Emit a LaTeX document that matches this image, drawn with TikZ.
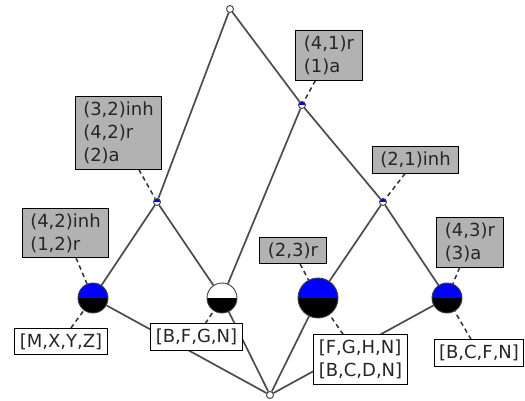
\documentclass[tikz,border=0pt]{standalone}
\usepackage{fontspec}
\setmainfont{DejaVu Sans}
\usetikzlibrary{backgrounds}

\tikzset{
  every node/.style={font=\fontsize{18}{23}\selectfont, text=black!85},
  edge/.style={draw=black!70, line width=1.7pt},
  link/.style={draw=black!80, line width=1.5pt, dash pattern=on 4.5pt off 3.5pt},
  attr/.style={draw=black, fill=black!30, line width=1pt, align=left, inner xsep=8pt, inner ysep=5pt},
  objs/.style={draw=black, fill=white, line width=1pt, align=left, inner xsep=5pt, inner ysep=5pt},
  concept/.style={circle, draw=black!75, line width=0.9pt, inner sep=0pt, minimum size=#1},
  half/.style 2 args={path picture={
    \fill[#1] (path picture bounding box.north west) rectangle (path picture bounding box.east);
    \fill[#2] (path picture bounding box.west) rectangle (path picture bounding box.south east);}},
}

\begin{document}
\begin{tikzpicture}[x=1pt, y=-1pt]
			%%%%% START %%%%%
			\useasboundingbox (0, 0) rectangle (525, 401);
			\clip (0, 0) rectangle (525, 401);
			
			% lattice points
			\node[concept=7pt, fill=white] (top) at (230, 9) {};
			\node[concept=7pt, half={blue}{white}] (c41) at (302, 105) {};
			\node[concept=7pt, half={blue}{white}] (c32) at (157, 202) {};
			\node[concept=7pt, half={blue}{white}] (c21) at (383, 202) {};
			\node[concept=30pt, half={blue}{black}] (cMXYZ) at (93, 298) {};
			\node[concept=30pt, half={white}{black}] (cBFGN) at (222, 298) {};
			\node[concept=40pt, half={blue}{black}] (cFGHN) at (318, 298) {};
			\node[concept=30pt, half={blue}{black}] (cBCFN) at (447, 298) {};
			\node[concept=7pt, fill=white] (bot) at (270, 395) {};
			
			% labels
			\node[attr] (a41) at (329, 55.5) {(4,1)r\\(1)a};
			\node[attr] (a32) at (118.5, 133) {(3,2)inh\\(4,2)r\\(2)a};
			\node[attr] (a42) at (65.5, 233) {(4,2)inh\\(1,2)r};
			\node[attr] (a21) at (415.5, 160) {(2,1)inh};
			\node[attr] (a23) at (293, 250.5) {(2,3)r};
			\node[attr] (a43) at (470, 242.5) {(4,3)r\\(3)a};
			
			\node[objs] (oMXYZ) at (61, 341.5) {[M,X,Y,Z]};
			\node[objs] (oBFGN) at (196.5, 337) {[B,F,G,N]};
			\node[objs] (oFGHN) at (360.5, 359.5) {[F,G,H,N]\\{}[B,C,D,N]};
			\node[objs] (oBCFN) at (479, 353) {[B,C,F,N]};
			
			% edges
			\begin{pgfonlayer}{background}
			\path[edge] (top) -- (c32);
			\path[edge] (top) -- (c41);
			\path[edge] (c41) -- (c21);
			\path[edge] (c41) -- (cBFGN);
			\path[edge] (c32) -- (cMXYZ);
			\path[edge] (c32) -- (cBFGN);
			\path[edge] (c21) -- (cFGHN);
			\path[edge] (c21) -- (cBCFN);
			\path[edge] (cMXYZ) -- (bot);
			\path[edge] (cBFGN) -- (bot);
			\path[edge] (cFGHN) -- (bot);
			\path[edge] (cBCFN) -- (bot);
			
			\foreach \a/\c in {a41/c41, a32/c32, a42/cMXYZ, a21/c21, a23/cFGHN, a43/cBCFN,
			                   oMXYZ/cMXYZ, oBFGN/cBFGN, oFGHN/cFGHN, oBCFN/cBCFN}
			  \path[link] (\a) -- (\c);
			\end{pgfonlayer}
			
			%%%%% END %%%%%
		\end{tikzpicture}
\end{document}
